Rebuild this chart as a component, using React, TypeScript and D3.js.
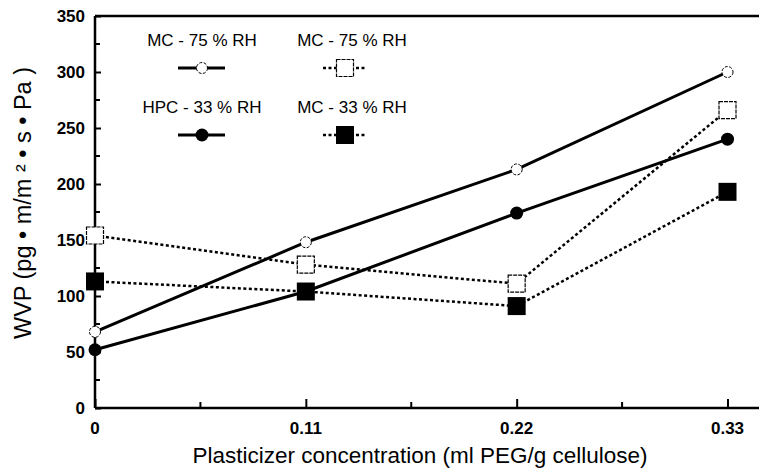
import React, {useEffect, useRef} from 'react';
import * as d3 from 'd3';

// plasticizer levels (ml PEG/g cellulose)
const xValues = [0, 0.11, 0.22, 0.33];
const xTickLabels = ['0', '0.11', '0.22', '0.33'];
const yTicks = [0, 50, 100, 150, 200, 250, 300, 350];

// WVP values
const mc75Circle = [68, 148, 213, 300];
const hpc33 = [52, 104, 174, 240];
const mc75Square = [154, 128, 111, 266];
const mc33Square = [113, 104, 91, 193];

const seriesNames = ['MC - 75 % RH', 'MC - 75 % RH', 'HPC - 33 % RH', 'MC - 33 % RH'];

const W = 759, H = 473;
const margin = {t: 16, r: 0, b: 65, l: 95};
const font = 'Liberation Sans, Arial, sans-serif';

const x = d3.scaleLinear().domain([0, 0.33]).range([margin.l, 727.5]);
const y = d3.scaleLinear().domain([0, 350]).range([H - margin.b, margin.t]);

const lineGen = d3.line<number>()
	.x((d, i) => x(xValues[i]))
	.y(d => y(d));

const series = [
	{name: seriesNames[0], values: mc75Circle, dash: null, marker: 'openCircle'},
	{name: seriesNames[2], values: hpc33, dash: null, marker: 'filledCircle'},
	{name: seriesNames[1], values: mc75Square, dash: '3 2.5', marker: 'openSquare'},
	{name: seriesNames[3], values: mc33Square, dash: '3 2.5', marker: 'filledSquare'},
];

function Marker({type, cx, cy}: {type: string, cx: number, cy: number}) {
	if (type === 'openCircle')
		return <circle cx={cx} cy={cy} r={5.5} fill='white' stroke='#000' strokeWidth={1} strokeDasharray='3 1.5'/>;
	if (type === 'filledCircle')
		return <circle cx={cx} cy={cy} r={6.5} fill='#000'/>;
	if (type === 'openSquare')
		return <rect x={cx - 8.5} y={cy - 8.5} width={17} height={17} fill='white' stroke='#000' strokeWidth={1.2} strokeDasharray='4 1'/>;
	return <rect x={cx - 9} y={cy - 9} width={18} height={18} fill='#000'/>;
}

export default function App() {
	const yAxisRef = useRef<SVGGElement>(null);
	const xAxisRef = useRef<SVGGElement>(null);

	useEffect(() => {
		// left axis, ticks pointing inward
		const yMinor = d3.range(25, 350, 50);
		const ya = d3.select(yAxisRef.current);
		ya.call(d3.axisRight(y).tickValues(yTicks).tickSize(6).tickFormat(() => ''));
		ya.select('.domain').remove();
		ya.selectAll('line').attr('stroke', '#000').attr('stroke-width', 2);
		ya.selectAll('.minor').data(yMinor).join('line').attr('class', 'minor')
			.attr('x1', 0).attr('x2', 5).attr('y1', d => y(d)).attr('y2', d => y(d))
			.attr('stroke', '#000').attr('stroke-width', 2);

		const xMinor = [0.055, 0.165, 0.275];
		const xa = d3.select(xAxisRef.current);
		xa.call(d3.axisTop(x).tickValues(xValues).tickSize(9).tickFormat(() => ''));
		xa.select('.domain').remove();
		xa.selectAll('line').attr('stroke', '#000').attr('stroke-width', 2);
		xa.selectAll('.minor').data(xMinor).join('line').attr('class', 'minor')
			.attr('x1', d => x(d)).attr('x2', d => x(d)).attr('y1', 0).attr('y2', -6)
			.attr('stroke', '#000').attr('stroke-width', 2);
	}, []);

	const legend = [
		{s: series[0], tx: 202, ty: 46, ly: 68, lx1: 178, lx2: 225, mx: 202},
		{s: series[2], tx: 352, ty: 46, ly: 68, lx1: 323, lx2: 367, mx: 345},
		{s: series[1], tx: 202, ty: 113, ly: 135, lx1: 178, lx2: 225, mx: 202},
		{s: series[3], tx: 352, ty: 113, ly: 135, lx1: 323, lx2: 367, mx: 345},
	];

	return (
		<div style={{position: 'absolute', left: 0, top: 0}}>
			<svg width={W} height={H} style={{display: 'block', background: '#fff'}}>
				{/* frame */}
				<line x1={margin.l} x2={W} y1={margin.t} y2={margin.t} stroke='#000' strokeWidth={2.5}/>
				<line x1={margin.l} x2={margin.l} y1={margin.t} y2={y(0)} stroke='#000' strokeWidth={2.5}/>
				<line x1={margin.l} x2={W} y1={y(0)} y2={y(0)} stroke='#000' strokeWidth={2.5}/>
				<g ref={yAxisRef} transform={`translate(${margin.l},0)`}/>
				<g ref={xAxisRef} transform={`translate(0,${y(0)})`}/>

				{yTicks.map(t =>
					<text key={t} x={margin.l - 10} y={y(t)} dy='0.35em' textAnchor='end'
						fontFamily={font} fontSize={17} fontWeight='bold'>{t}</text>
				)}
				{xValues.map((v, i) =>
					<text key={v} x={x(v)} y={434} textAnchor='middle'
						fontFamily={font} fontSize={17} fontWeight='bold'>{xTickLabels[i]}</text>
				)}

				{series.map(s =>
					<path key={s.marker} d={lineGen(s.values) || ''} fill='none' stroke='#000'
						strokeWidth={s.dash ? 2.5 : 3} strokeDasharray={s.dash || undefined}/>
				)}
				{series.map(s => s.values.map((v, i) =>
					<Marker key={s.marker + i} type={s.marker} cx={x(xValues[i])} cy={y(v)}/>
				))}

				{legend.map((l, i) =>
					<g key={i}>
						<text x={l.tx} y={l.ty} textAnchor='middle' fontFamily={font} fontSize={17}>{l.s.name}</text>
						<line x1={l.lx1} x2={l.lx2} y1={l.ly} y2={l.ly} stroke='#000'
							strokeWidth={l.s.dash ? 2.5 : 3} strokeDasharray={l.s.dash || undefined}/>
						<Marker type={l.s.marker} cx={l.mx} cy={l.ly}/>
					</g>
				)}

				<text transform={`translate(31,203) rotate(-90)`} textAnchor='middle'
					fontFamily={font} fontSize={23} textLength={272} lengthAdjust='spacingAndGlyphs'>
					WVP (pg • m/m ² • s • Pa )</text>
				<text x={420} y={463} textAnchor='middle' fontFamily={font} fontSize={22}
					textLength={455} lengthAdjust='spacingAndGlyphs'>
					Plasticizer concentration (ml PEG/g cellulose)</text>
			</svg>
		</div>
	);
}
